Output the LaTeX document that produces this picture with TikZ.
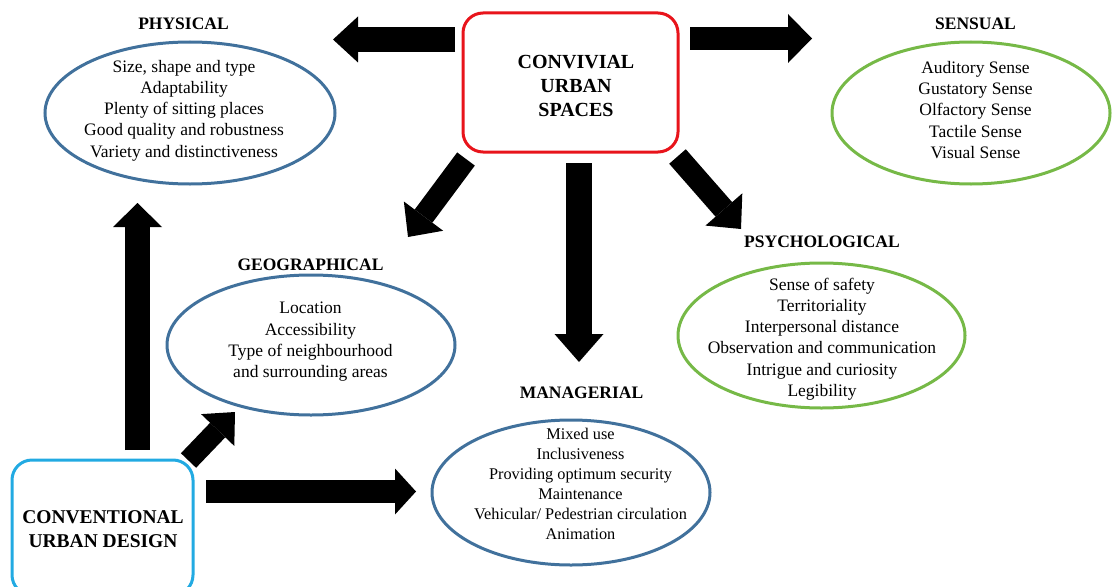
\documentclass[tikz,border=0pt]{standalone}
\usepackage{fontspec}
\setmainfont{Liberation Serif}
\usetikzlibrary{shapes.geometric,arrows.meta}
\definecolor{ellblue}{HTML}{41719C}
\definecolor{ellgreen}{HTML}{76B947}
\definecolor{boxred}{HTML}{E8141B}
\definecolor{boxcyan}{HTML}{22AAE2}
\begin{document}
\begin{tikzpicture}[x=1pt,y=-1pt,
  ell/.style={ellipse,draw,line width=3pt,inner sep=0pt},
  lst/.style={align=center,font=\fontsize{17.5}{21.3}\selectfont,inner sep=0pt},
  hdr/.style={font=\bfseries\fontsize{17.5}{21}\selectfont,inner sep=0pt},
  bigbox/.style={draw,rounded corners=20pt,line width=3pt},
  bigtext/.style={align=center,inner sep=0pt,font=\bfseries\fontsize{20}{24}\selectfont},
  blockarrow/.style n args={3}{line width=#1,-{Triangle[width=#2,length=#3,line width=0pt]}}
]
\useasboundingbox (0,0) rectangle (1113,586);
\clip (0,0) rectangle (1113,586);

% central boxes
\node[bigbox,draw=boxred,minimum width=215pt,minimum height=139pt] (conv) at (570.5,82.5) {};
\node[bigtext] (convT) at (576,86) {CONVIVIAL\\URBAN\\SPACES};
\node[bigbox,draw=boxcyan,minimum width=181pt,minimum height=135pt] (cud) at (102.5,527.5) {};
\node[bigtext,font=\bfseries\fontsize{19.5}{24}\selectfont] (cudT) at (103,529) {CONVENTIONAL\\URBAN DESIGN};

% ellipses
\node[ell,draw=ellblue,minimum width=290pt,minimum height=142pt] (phys) at (190,113) {};
\node[ell,draw=ellgreen,minimum width=278pt,minimum height=142pt] (sens) at (971,113) {};
\node[ell,draw=ellblue,minimum width=288pt,minimum height=140pt] (geo) at (311,345) {};
\node[ell,draw=ellgreen,minimum width=287pt,minimum height=145pt] (psy) at (821.5,335.5) {};
\node[ell,draw=ellblue,minimum width=278pt,minimum height=145pt] (man) at (571,492.5) {};

% headings
\node[hdr] (physH) at (183.5,23.5) {PHYSICAL};
\node[hdr] (sensH) at (975.5,23.5) {SENSUAL};
\node[hdr] (geoH) at (310.5,264.5) {GEOGRAPHICAL};
\node[hdr] (psyH) at (822,241.5) {PSYCHOLOGICAL};
\node[hdr] (manH) at (581.5,392.5) {MANAGERIAL};

% lists
\node[lst] (physT) at (184,110.5) {Size, shape and type\\Adaptability\\Plenty of sitting places\\Good quality and robustness\\Variety and distinctiveness};
\node[lst] (sensT) at (975.5,110) {Auditory Sense\\Gustatory Sense\\Olfactory Sense\\Tactile Sense\\Visual Sense};
\node[lst] (geoT) at (310.5,342) {Location\\Accessibility\\Type of neighbourhood\\and surrounding areas};
\node[lst] (psyT) at (822,339) {Sense of safety\\Territoriality\\Interpersonal distance\\Observation and communication\\Intrigue and curiosity\\Legibility};
\node[lst,font=\fontsize{16.3}{20}\selectfont] (manT) at (580.5,484) {Mixed use\\Inclusiveness\\Providing optimum security\\Maintenance\\Vehicular/ Pedestrian circulation\\Animation};

% arrow end points
\coordinate (a1s) at (455,39.5);   \coordinate (a1e) at (333,39.5);
\coordinate (a2s) at (690,38.5);   \coordinate (a2e) at (812,38.5);
\coordinate (a3s) at (579,163);    \coordinate (a3e) at (579,362);
\coordinate (a4s) at (466,159);    \coordinate (a4e) at (408,237);
\coordinate (a5s) at (677.5,156.5);\coordinate (a5e) at (741,229);
\coordinate (a6s) at (137.5,450);  \coordinate (a6e) at (137.5,203);
\coordinate (a7s) at (188.5,460.5);\coordinate (a7e) at (235,412);
\coordinate (a8s) at (206,491.5);  \coordinate (a8e) at (416,491.5);

% block arrows
\draw[blockarrow={25pt}{46pt}{25pt}] (a1s) -- (a1e);
\draw[blockarrow={23pt}{49pt}{24pt}] (a2s) -- (a2e);
\draw[blockarrow={26pt}{49pt}{28pt}] (a3s) -- (a3e);
\draw[blockarrow={22pt}{49pt}{26pt}] (a4s) -- (a4e);
\draw[blockarrow={22pt}{49pt}{26pt}] (a5s) -- (a5e);
\draw[blockarrow={25pt}{49pt}{24pt}] (a6s) -- (a6e);
\draw[blockarrow={21pt}{46pt}{25pt}] (a7s) -- (a7e);
\draw[blockarrow={23pt}{46pt}{21pt}] (a8s) -- (a8e);
\end{tikzpicture}
\end{document}
